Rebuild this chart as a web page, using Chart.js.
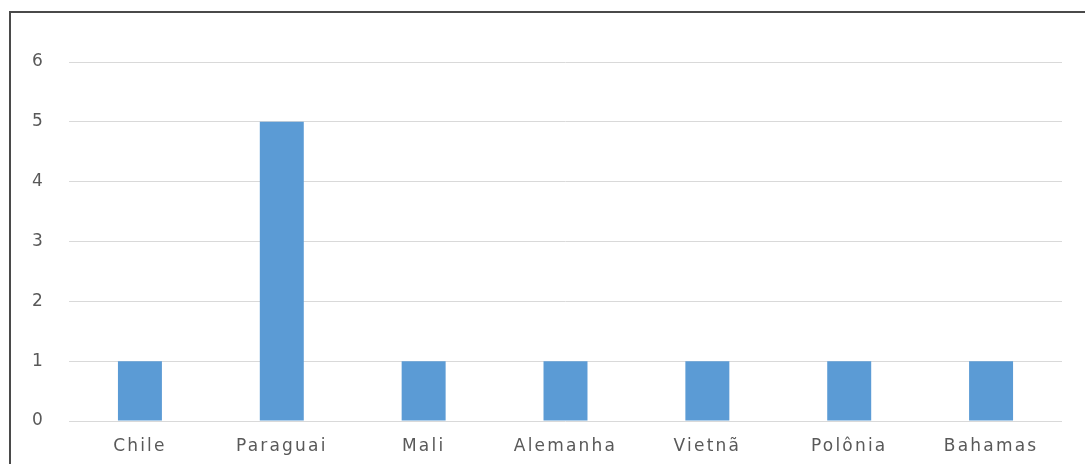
<!DOCTYPE html>
<html>
<head>
<meta charset="utf-8">
<script src="https://cdn.jsdelivr.net/npm/chart.js@4"></script>
<style>
  html, body { margin: 0; padding: 0; background: #fff; overflow: hidden; }
  #wrap { position: relative; width: 1085px; height: 464px; }
  #frame {
    position: absolute; left: 9px; top: 11px; width: 1080px; height: 460px;
    border-top: 2px solid #4a4a4a; border-left: 2px solid #4a4a4a;
  }
  canvas { position: absolute; left: 0; top: 0; }
</style>
</head>
<body>
<div id="wrap">
  <div id="frame"></div>
  <canvas id="barChart" width="1085" height="464"></canvas>
</div>
<script>
// países e quantidades
const paises = ['Chile', 'Paraguai', 'Mali', 'Alemanha', 'Vietnã', 'Polônia', 'Bahamas'];
const quantidade = [1, 5, 1, 1, 1, 1, 1];
const yTicks = [0, 1, 2, 3, 4, 5, 6];

// texto um pouco mais espaçado, como no original
const espacamento = {
    id: 'espacamento',
    beforeDraw: chart => { chart.ctx.letterSpacing = '2.2px'; }
};

const ctx = document.getElementById('barChart').getContext('2d');
new Chart(ctx, {
    type: 'bar',
    data: {
        labels: paises,
        datasets: [{
            data: quantidade,
            backgroundColor: '#5b9bd5',
            borderWidth: 0,
            barPercentage: 0.31,
            categoryPercentage: 1
        }]
    },
    options: {
        responsive: false,
        animation: false,
        layout: { padding: { left: 0, top: 62, right: 23, bottom: 0 } },
        plugins: { legend: { display: false }, tooltip: { enabled: false } },
        scales: {
            x: {
                grid: { display: false, drawTicks: false },
                border: { display: false },
                ticks: { color: '#595959', padding: 15, font: { family: 'DejaVu Sans', size: 17 } },
                afterFit: s => { s.height = 43; }
            },
            y: {
                min: 0,
                max: 6,
                afterBuildTicks: s => { s.ticks = yTicks.map(v => ({ value: v })); },
                grid: { color: '#d9d9d9', lineWidth: 1, drawTicks: false },
                border: { display: false },
                ticks: { color: '#595959', padding: 24, font: { family: 'DejaVu Sans', size: 17 } },
                afterFit: s => { s.width = 69; }
            }
        }
    },
    plugins: [espacamento]
});
</script>
</body>
</html>
